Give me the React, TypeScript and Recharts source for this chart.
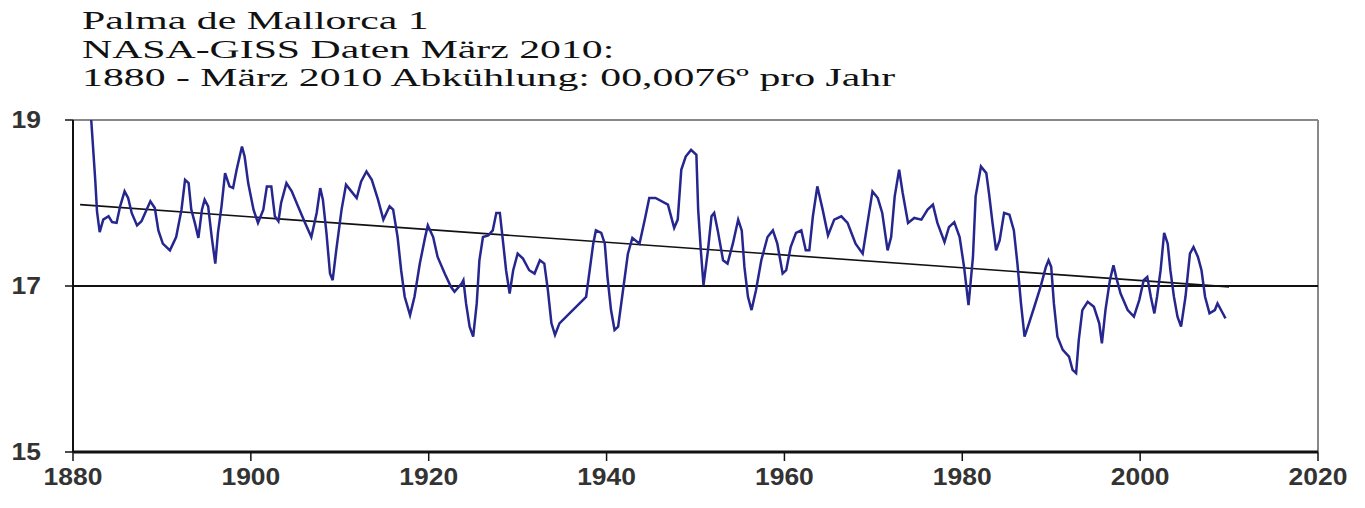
import { LineChart, Line, XAxis, YAxis, ReferenceLine } from "recharts";

// Jahresmittel (geglättet)
const years = [
  1881.8, 1882.2, 1882.5, 1882.7, 1883.0, 1883.4, 1884.0, 1884.4, 1884.9, 1885.3,
  1885.8, 1886.2, 1886.6, 1887.2, 1887.7, 1888.7, 1889.2, 1889.6, 1890.1, 1890.9,
  1891.6, 1892.2, 1892.6, 1893.0, 1893.3, 1893.7, 1894.1, 1894.5, 1894.8, 1895.2,
  1895.6, 1896.0, 1896.3, 1896.7, 1897.1, 1897.6, 1898.0, 1898.4, 1899.0, 1899.3,
  1899.7, 1900.3, 1900.8, 1901.4, 1901.8, 1902.3, 1902.7, 1903.1, 1903.4, 1904.0,
  1904.6, 1905.3, 1906.1, 1906.8, 1907.4, 1907.8, 1908.1, 1908.5, 1908.9, 1909.2,
  1909.6, 1910.2, 1910.7, 1911.3, 1911.9, 1912.4, 1913.0, 1913.6, 1914.3, 1914.9,
  1915.6, 1916.0, 1916.5, 1916.9, 1917.3, 1917.9, 1918.4, 1919.0, 1919.6, 1919.9,
  1920.5, 1921.0, 1921.8, 1922.5, 1922.9, 1923.7, 1923.9, 1924.2, 1924.6, 1925.0,
  1925.4, 1925.7, 1926.1, 1926.7, 1927.2, 1927.6, 1928.0, 1928.3, 1928.7, 1929.1,
  1929.5, 1930.0, 1930.6, 1931.3, 1931.9, 1932.5, 1933.0, 1933.4, 1933.8, 1934.2,
  1934.7, 1936.2, 1937.7, 1938.1, 1938.5, 1938.8, 1939.4, 1939.8, 1940.1, 1940.5,
  1940.9, 1941.3, 1941.8, 1942.4, 1942.9, 1943.7, 1944.3, 1944.8, 1945.5, 1946.9,
  1947.6, 1948.0, 1948.4, 1948.9, 1949.5, 1950.1, 1950.3, 1950.6, 1950.9, 1951.4,
  1951.8, 1952.1, 1952.5, 1953.1, 1953.6, 1954.2, 1954.8, 1955.2, 1955.5, 1955.9,
  1956.3, 1956.8, 1957.4, 1958.1, 1958.7, 1959.2, 1959.8, 1960.2, 1960.7, 1961.3,
  1961.9, 1962.4, 1962.8, 1963.2, 1963.7, 1964.3, 1964.9, 1965.6, 1966.4, 1967.1,
  1967.6, 1968.0, 1968.8, 1969.4, 1969.9, 1970.5, 1971.0, 1971.6, 1972.0, 1972.4,
  1972.9, 1973.3, 1973.9, 1974.6, 1975.4, 1976.1, 1976.7, 1977.2, 1978.0, 1978.5,
  1979.1, 1979.7, 1980.2, 1980.7, 1981.2, 1981.5, 1982.1, 1982.7, 1983.0, 1983.4,
  1983.8, 1984.2, 1984.7, 1985.3, 1985.8, 1986.2, 1986.6, 1987.0, 1987.5, 1988.1,
  1988.8, 1989.4, 1989.7, 1990.0, 1990.3, 1990.7, 1991.3, 1992.0, 1992.4, 1992.8,
  1993.1, 1993.5, 1994.1, 1994.8, 1995.4, 1995.7, 1996.1, 1996.6, 1997.0, 1997.3,
  1997.8, 1998.6, 1999.3, 1999.9, 2000.4, 2000.8, 2001.2, 2001.6, 2001.9, 2002.3,
  2002.7, 2003.1, 2003.4, 2003.8, 2004.2, 2004.6, 2005.1, 2005.6, 2006.0, 2006.5,
  2006.9, 2007.3, 2007.8, 2008.4, 2008.7, 2009.2, 2009.6,
];

const temps = [
  19.4, 18.76, 18.28, 17.9, 17.65, 17.8, 17.84, 17.77, 17.76, 17.96,
  18.14, 18.06, 17.88, 17.73, 17.78, 18.02, 17.94, 17.67, 17.51, 17.43,
  17.59, 17.92, 18.28, 18.24, 17.92, 17.76, 17.58, 17.92, 18.04, 17.96,
  17.59, 17.27, 17.64, 17.96, 18.36, 18.2, 18.18, 18.4, 18.68, 18.56,
  18.24, 17.92, 17.76, 17.92, 18.2, 18.2, 17.84, 17.78, 18.0, 18.24,
  18.14, 17.96, 17.76, 17.59, 17.88, 18.18, 18.04, 17.64, 17.15, 17.07,
  17.43, 17.92, 18.22, 18.14, 18.06, 18.26, 18.38, 18.28, 18.04, 17.8,
  17.96, 17.92, 17.59, 17.19, 16.87, 16.65, 16.87, 17.27, 17.59, 17.73,
  17.59, 17.35, 17.15, 16.99, 16.93, 17.03, 17.07, 16.79, 16.51, 16.39,
  16.79, 17.31, 17.59, 17.61, 17.67, 17.88, 17.88, 17.59, 17.19, 16.91,
  17.19, 17.39, 17.33, 17.19, 17.15, 17.31, 17.27, 16.95, 16.55, 16.41,
  16.55, 16.71, 16.87, 17.19, 17.51, 17.67, 17.64, 17.51, 17.11, 16.71,
  16.47, 16.51, 16.91, 17.39, 17.58, 17.51, 17.8, 18.06, 18.06, 17.98,
  17.7, 17.8, 18.4, 18.56, 18.64, 18.58, 17.92, 17.43, 17.01, 17.43,
  17.84, 17.88, 17.67, 17.31, 17.27, 17.51, 17.8, 17.67, 17.23, 16.87,
  16.71, 16.95, 17.31, 17.59, 17.67, 17.51, 17.15, 17.19, 17.47, 17.64,
  17.67, 17.43, 17.43, 17.84, 18.2, 17.92, 17.61, 17.8, 17.84, 17.76,
  17.62, 17.51, 17.39, 17.8, 18.14, 18.06, 17.88, 17.43, 17.59, 18.08,
  18.4, 18.12, 17.76, 17.82, 17.8, 17.92, 17.98, 17.76, 17.53, 17.71,
  17.77, 17.59, 17.23, 16.77, 17.35, 18.08, 18.44, 18.36, 18.12, 17.76,
  17.43, 17.55, 17.88, 17.86, 17.67, 17.27, 16.79, 16.39, 16.55, 16.75,
  16.99, 17.23, 17.31, 17.23, 16.79, 16.39, 16.23, 16.15, 15.99, 15.95,
  16.35, 16.71, 16.81, 16.75, 16.55, 16.31, 16.71, 17.07, 17.25, 17.11,
  16.91, 16.71, 16.63, 16.83, 17.07, 17.11, 16.87, 16.67, 16.87, 17.19,
  17.64, 17.51, 17.19, 16.87, 16.63, 16.51, 16.87, 17.39, 17.47, 17.35,
  17.19, 16.87, 16.67, 16.71, 16.79, 16.69, 16.61,
];

// lineare Trendlinie 1880 - 2010
const trendYears = [1880.8, 2010];
const trendTemps = [17.98, 16.99];

const xTicks = [1880, 1900, 1920, 1940, 1960, 1980, 2000, 2020];
const yTicks = [15, 17, 19];

const titleLines = [
  "Palma de Mallorca 1",
  "NASA-GISS Daten März 2010:",
  "1880 - März 2010 Abkühlung: 00,0076º pro Jahr",
];

const series = years.map((y, i) => ({ year: y, temp: temps[i] }));
const trend = trendYears.map((y, i) => ({ year: y, temp: trendTemps[i] }));

function StretchTick(props: any) {
  const { x, y, payload, textAnchor } = props;
  return (
    <text
      x={x}
      y={y}
      textAnchor={textAnchor}
      dominantBaseline="central"
      fontSize={23}
      fontWeight="bold"
      fontFamily="'Liberation Sans', Arial, sans-serif"
      fill="#333"
      transform={`translate(${x},${y}) scale(1.15,1) translate(${-x},${-y})`}
    >
      {payload.value}
    </text>
  );
}

export default function App() {
  return (
    <div style={{ position: "absolute", left: 0, top: 0, width: 1365, height: 508, background: "#fff" }}>
      <div
        style={{
          position: "absolute",
          left: 82,
          top: 7,
          fontFamily: "'Liberation Serif', 'Times New Roman', serif",
          fontSize: 25,
          lineHeight: "28.5px",
          color: "#111",
          transform: "scaleX(1.67)",
          transformOrigin: "left top",
          whiteSpace: "nowrap",
        }}
      >
        {titleLines.map((t) => (
          <div key={t}>{t}</div>
        ))}
      </div>
      <LineChart
        width={1365}
        height={508}
        margin={{ top: 120, right: 47, bottom: 0, left: 13 }}
        style={{ position: "absolute", left: 0, top: 0 }}
      >
        <XAxis
          type="number"
          dataKey="year"
          domain={[1880, 2020]}
          ticks={xTicks}
          height={56}
          tickSize={9}
          tickMargin={16}
          axisLine={{ stroke: "#111", strokeWidth: 3 }}
          tickLine={{ stroke: "#111", strokeWidth: 1.5 }}
          tick={<StretchTick />}
          allowDataOverflow
        />
        <YAxis
          type="number"
          domain={[15, 19]}
          ticks={yTicks}
          width={60}
          tickSize={8}
          tickMargin={24}
          axisLine={{ stroke: "#111", strokeWidth: 2 }}
          tickLine={{ stroke: "#111", strokeWidth: 1.5 }}
          tick={<StretchTick />}
          allowDataOverflow
        />
        <ReferenceLine y={19} stroke="#888" strokeWidth={2} />
        <ReferenceLine x={2020} stroke="#888" strokeWidth={2} />
        <ReferenceLine y={17} stroke="#111" strokeWidth={2} />
        <Line
          data={trend}
          dataKey="temp"
          type="linear"
          stroke="#111"
          strokeWidth={1.6}
          dot={false}
          isAnimationActive={false}
        />
        <Line
          data={series}
          dataKey="temp"
          type="linear"
          stroke="#26268f"
          strokeWidth={2.5}
          dot={false}
          isAnimationActive={false}
        />
      </LineChart>
    </div>
  );
}
